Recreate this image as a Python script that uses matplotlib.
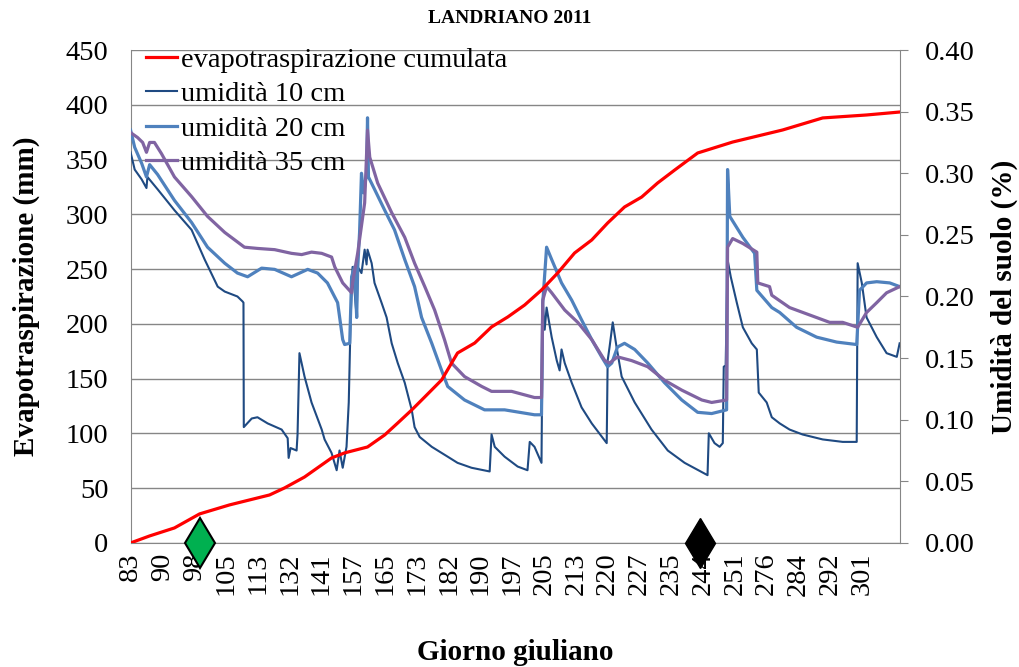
import matplotlib
matplotlib.use("Agg")
import matplotlib.pyplot as plt

plt.rcParams['font.family'] = ['Liberation Serif', 'DejaVu Serif']

# category labels (giorno giuliano), one every tick position
day_labels = ["83", "90", "98", "105", "113", "132", "141", "157", "165", "173", "182", "190",
              "197", "205", "213", "220", "227", "235", "244", "251", "276", "284", "292", "301"]

# cumulative evapotranspiration (mm), x = position on the category axis
et_x = [0.00, 0.60, 1.38, 2.17, 3.11, 4.37, 4.84, 5.47, 6.32, 6.73, 7.45, 7.99, 8.40, 8.84,
        9.25, 9.78, 10.28, 10.82, 11.35, 11.86, 12.39, 12.92, 13.43, 13.96, 14.50, 15.00,
        15.53, 16.07, 16.57, 17.11, 17.83, 18.93, 20.50, 21.76, 23.14, 24.18]
et_y = [0, 6.4, 13.7, 26.5, 34.7, 43.8, 50.2, 60.2, 77.6, 82.2, 87.6, 98.6, 109.5, 121.4,
        133.3, 148.8, 173.4, 182.5, 197.2, 206.3, 217.2, 230.9, 246.5, 264.7, 276.6, 292.1,
        306.7, 315.8, 328.6, 340.5, 356.0, 366.0, 377.0, 388.0, 390.7, 393.4]

# soil moisture at 10 cm
u10_x = [0.00, 0.13, 0.35, 0.50, 0.53, 0.85, 1.38, 1.92, 2.33, 2.74, 2.96, 3.36, 3.52, 3.55,
         3.56, 3.81, 3.99, 4.31, 4.75, 4.94, 4.97, 5.03, 5.22, 5.25, 5.31, 5.47, 5.69, 6.01,
         6.10, 6.32, 6.48, 6.57, 6.67, 6.79, 6.86, 6.92, 6.98, 7.11, 7.14, 7.26, 7.36, 7.42,
         7.45, 7.58, 7.67, 7.89, 8.05, 8.21, 8.40, 8.62, 8.84, 8.93, 9.09, 9.47, 9.97, 10.28,
         10.72, 11.29, 11.35, 11.45, 11.76, 12.17, 12.48, 12.55, 12.70, 12.92, 12.96, 13.02,
         13.08, 13.24, 13.40, 13.49, 13.55, 13.65, 13.87, 14.18, 14.50, 14.97, 15.00, 15.06,
         15.16, 15.28, 15.44, 15.85, 16.38, 16.89, 17.42, 18.14, 18.18, 18.36, 18.52, 18.62,
         18.65, 18.71, 18.77, 18.87, 19.06, 19.25, 19.53, 19.69, 19.75, 20.00, 20.16, 20.41,
         20.72, 21.13, 21.76, 22.39, 22.83, 22.86, 22.99, 23.14, 23.46, 23.77, 24.09, 24.18]
u10_y = [0.317, 0.303, 0.295, 0.288, 0.297, 0.287, 0.270, 0.254, 0.230, 0.208, 0.204, 0.200,
         0.196, 0.195, 0.094, 0.101, 0.102, 0.097, 0.092, 0.085, 0.069, 0.077, 0.075, 0.088,
         0.154, 0.135, 0.114, 0.092, 0.084, 0.073, 0.059, 0.075, 0.061, 0.078, 0.114, 0.183,
         0.224, 0.183, 0.224, 0.219, 0.238, 0.226, 0.238, 0.227, 0.211, 0.195, 0.183, 0.162,
         0.146, 0.130, 0.108, 0.094, 0.086, 0.078, 0.070, 0.065, 0.061, 0.058, 0.088, 0.078,
         0.070, 0.062, 0.059, 0.082, 0.078, 0.065, 0.195, 0.173, 0.191, 0.167, 0.148, 0.140,
         0.157, 0.146, 0.130, 0.110, 0.097, 0.081, 0.148, 0.159, 0.179, 0.159, 0.135, 0.114,
         0.092, 0.075, 0.065, 0.055, 0.089, 0.081, 0.078, 0.081, 0.143, 0.144, 0.230, 0.216,
         0.195, 0.175, 0.162, 0.157, 0.122, 0.114, 0.102, 0.097, 0.092, 0.088, 0.084, 0.082,
         0.082, 0.227, 0.211, 0.183, 0.167, 0.154, 0.151, 0.162]

# soil moisture at 20 cm
u20_x = [0.00, 0.13, 0.35, 0.50, 0.60, 0.85, 1.38, 1.92, 2.42, 2.96, 3.36, 3.68, 4.12, 4.53,
         5.06, 5.57, 5.88, 6.19, 6.51, 6.67, 6.73, 6.89, 6.95, 7.04, 7.11, 7.14, 7.20, 7.26,
         7.33, 7.42, 7.45, 7.48, 7.67, 7.99, 8.30, 8.62, 8.93, 9.15, 9.47, 9.78, 9.97, 10.50,
         11.13, 11.76, 12.70, 12.92, 12.96, 13.08, 13.24, 13.55, 13.87, 14.18, 14.50, 14.81,
         15.00, 15.13, 15.31, 15.53, 15.85, 16.26, 16.79, 17.33, 17.83, 18.27, 18.74, 18.77,
         18.84, 19.25, 19.62, 19.69, 20.16, 20.41, 20.94, 21.57, 22.20, 22.83, 22.92, 23.14,
         23.46, 23.87, 24.18]
u20_y = [0.335, 0.321, 0.308, 0.297, 0.307, 0.299, 0.278, 0.260, 0.240, 0.227, 0.219, 0.216,
         0.223, 0.222, 0.216, 0.222, 0.219, 0.211, 0.195, 0.165, 0.161, 0.162, 0.216, 0.224,
         0.183, 0.222, 0.252, 0.300, 0.284, 0.300, 0.345, 0.297, 0.287, 0.270, 0.254, 0.230,
         0.208, 0.183, 0.162, 0.140, 0.127, 0.116, 0.108, 0.108, 0.104, 0.104, 0.195, 0.240,
         0.230, 0.211, 0.197, 0.181, 0.165, 0.151, 0.143, 0.146, 0.159, 0.162, 0.157, 0.146,
         0.130, 0.116, 0.106, 0.105, 0.108, 0.303, 0.265, 0.248, 0.235, 0.205, 0.191, 0.187,
         0.175, 0.167, 0.163, 0.161, 0.205, 0.211, 0.212, 0.211, 0.208]

# soil moisture at 35 cm
u35_x = [0.00, 0.22, 0.38, 0.50, 0.60, 0.75, 0.97, 1.38, 1.92, 2.42, 2.96, 3.58, 3.99, 4.53,
         5.06, 5.38, 5.69, 6.01, 6.32, 6.42, 6.67, 6.95, 6.98, 7.14, 7.36, 7.45, 7.52, 7.77,
         8.21, 8.62, 8.93, 9.25, 9.56, 9.87, 10.09, 10.50, 11.04, 11.35, 11.98, 12.70, 12.92,
         12.96, 13.08, 13.24, 13.65, 14.06, 14.50, 14.91, 15.06, 15.31, 15.75, 16.26, 16.79,
         17.33, 17.96, 18.27, 18.74, 18.77, 18.93, 19.25, 19.69, 19.72, 20.09, 20.16, 20.72,
         21.35, 21.98, 22.39, 22.86, 23.14, 23.46, 23.77, 24.18]
u35_y = [0.333, 0.329, 0.325, 0.317, 0.325, 0.325, 0.316, 0.297, 0.281, 0.265, 0.252, 0.240,
         0.239, 0.238, 0.235, 0.234, 0.236, 0.235, 0.232, 0.224, 0.211, 0.203, 0.211, 0.235,
         0.276, 0.335, 0.313, 0.292, 0.268, 0.248, 0.227, 0.208, 0.189, 0.165, 0.146, 0.135,
         0.127, 0.123, 0.123, 0.118, 0.118, 0.197, 0.208, 0.203, 0.189, 0.179, 0.165, 0.148,
         0.146, 0.151, 0.148, 0.143, 0.132, 0.124, 0.116, 0.114, 0.116, 0.240, 0.247, 0.243,
         0.236, 0.211, 0.208, 0.201, 0.191, 0.185, 0.179, 0.179, 0.175, 0.187, 0.195, 0.203,
         0.208]

# event markers on the x axis
green_x = 2.17
black_x = 17.9

fig = plt.figure(figsize=(10.2, 6.67), dpi=100)
ax = fig.add_axes([0.128, 0.186, 0.754, 0.739])
ax2 = ax.twinx()
ax3 = ax.twinx()

grey = "#868686"
fs = 20.5

# left axis: gridlines and ticks only
ax.set_xlim(0, 24.18)
ax.set_ylim(0, 450)
ax.set_yticks(range(0, 451, 50))
ax.grid(axis="y", color=grey, linewidth=1)
ax.set_axisbelow(True)
ax.set_xticks(range(len(day_labels)))
ax.set_xticklabels(day_labels, rotation=90, fontsize=fs)
ax.tick_params(axis="y", labelsize=fs, length=0, pad=16)
ax.tick_params(axis="x", length=0, pad=7)
for s in ["top", "right"]:
    ax.spines[s].set_visible(False)
ax.spines["left"].set_color(grey)
ax.spines["bottom"].set_color(grey)
ax.set_ylabel("Evapotraspirazione (mm)", fontsize=21, fontweight="bold")
ax.yaxis.set_label_coords(-0.118, 0.5)
ax.set_xlabel("Giorno giuliano", fontsize=21, fontweight="bold")
ax.xaxis.set_label_coords(0.5, -0.195)

# right axis: soil moisture
l10, = ax2.plot(u10_x, u10_y, color="#1F4A82", linewidth=1.5, label="umidità 10 cm")
l20, = ax2.plot(u20_x, u20_y, color="#4F81BD", linewidth=2.3, label="umidità 20 cm")
l35, = ax2.plot(u35_x, u35_y, color="#8064A2", linewidth=2.3, label="umidità 35 cm")
ax2.set_ylim(0, 0.40)
ax2.set_yticks([i * 0.05 for i in range(9)])
ax2.set_yticklabels(["%.2f" % (i * 0.05) for i in range(9)])
ax2.tick_params(axis="y", labelsize=fs, length=6, color=grey, pad=12)
for s in ["top", "left", "bottom"]:
    ax2.spines[s].set_visible(False)
ax2.spines["right"].set_color(grey)
ax2.set_ylabel("Umidità del suolo (%)", fontsize=21, fontweight="bold")
ax2.yaxis.set_label_coords(1.118, 0.5)

# top layer: cumulative ET and markers
let, = ax3.plot(et_x, et_y, color="#FF0000", linewidth=2.3, label="evapotraspirazione cumulata")
ax3.set_ylim(0, 450)
ax3.set_yticks([])
for s in ax3.spines.values():
    s.set_visible(False)
ax3.plot([green_x], [0], marker="d", markersize=25, color="#00B050",
         markeredgecolor="black", markeredgewidth=1.5, clip_on=False, linestyle="None")
ax3.plot([black_x], [0], marker="d", markersize=25, color="black",
         markeredgecolor="black", clip_on=False, linestyle="None")

ax3.legend(handles=[let, l10, l20, l35], loc="upper left", bbox_to_anchor=(0.005, 1.03),
           frameon=False, fontsize=fs, handlelength=1.1, handletextpad=0.12,
           labelspacing=0.3, borderaxespad=0)

fig.suptitle("LANDRIANO 2011", fontsize=14, fontweight="bold", x=0.5, y=0.985)

fig.savefig("out.png", dpi=100)
